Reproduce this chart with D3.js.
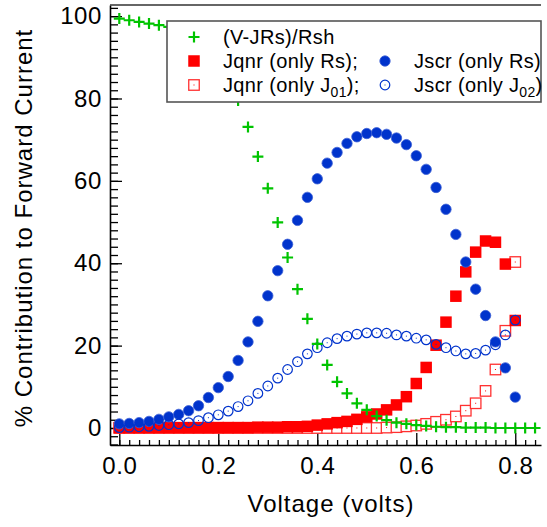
<!DOCTYPE html>
<html><head><meta charset="utf-8">
<script src="https://cdn.jsdelivr.net/npm/d3@7"></script>
<style>
html,body{margin:0;padding:0;background:#fff;}
svg{display:block;font-family:"Liberation Sans",Arial,sans-serif;}
</style></head>
<body><svg id="c" width="547" height="527"></svg>
<script>
// ---- data ----
const voltsLong = [0,0.02,0.04,0.06,0.08,0.10,0.12,0.14,0.16,0.18,0.20,0.22,0.24,0.26,0.28,0.30,0.32,0.34,0.36,0.38,0.40,0.42,0.44,0.46,0.48,0.50,0.52,0.54,0.56,0.58,0.60,0.62,0.64,0.66,0.68,0.70,0.72,0.74,0.76,0.78,0.80,0.82,0.84];
const volts = [0,0.02,0.04,0.06,0.08,0.10,0.12,0.14,0.16,0.18,0.20,0.22,0.24,0.26,0.28,0.30,0.32,0.34,0.36,0.38,0.40,0.42,0.44,0.46,0.48,0.50,0.52,0.54,0.56,0.58,0.60,0.62,0.64,0.66,0.68,0.70,0.72,0.74,0.76,0.78,0.80];
const shuntPct = [99.4,99.0,98.6,98.2,97.8,97.4,96.8,96.0,94.8,92.8,89.5,85.0,79.5,73.1,65.9,58.2,49.9,41.4,33.7,26.5,20.4,15.3,11.2,8.4,6.0,4.4,2.9,1.9,1.3,1.0,0.7,0.5,0.3,0.2,0.2,0.1,0.1,0.1,0.0,0.0,0.0,0.0,0.0];
const jqnrRs = [0.1,0.1,0.1,0.1,0.1,0.1,0.1,0.1,0.1,0.1,0.1,0.1,0.1,0.1,0.2,0.2,0.2,0.3,0.3,0.4,0.7,1.0,1.3,1.6,2.1,2.7,3.4,4.4,5.6,7.6,10.8,14.7,20.1,25.7,32.0,37.9,42.7,45.4,45.1,39.8,26.1];
const jqnrJ01 = [0,0,0,0,0,0,0,0,0,0,0,0,0,0,0,0,0,0,0,0,0,0,0,0,0,0,0.0,0.1,0.2,0.4,0.6,1.0,1.5,2.0,2.8,4.2,6.0,9.0,14.2,23.6,40.3];
const jscrRs = [1.0,1.1,1.3,1.6,2.1,2.7,3.3,4.2,5.4,7.4,9.8,12.5,16.4,20.9,25.9,32.1,38.2,44.6,50.4,56.0,60.5,64.3,66.9,69.1,70.7,71.5,71.7,71.3,70.4,68.8,66.1,62.8,58.4,53.1,47.0,40.3,33.7,27.3,20.9,14.6,7.5];
const jscrJ02 = [0.1,0.2,0.3,0.4,0.6,0.8,1.0,1.3,1.8,2.5,3.2,4.1,5.2,6.6,8.4,10.2,12.1,14.2,16.1,18.0,19.5,20.7,21.7,22.3,22.8,23.1,23.1,23.0,22.6,22.3,21.8,21.4,20.3,19.5,18.7,18.0,18.1,18.9,20.2,22.6,26.2];
const xTickLabels = [0.0,0.2,0.4,0.6,0.8];
const yTickLabels = [0,20,40,60,80,100];
const xMinorTicks = [0,0.02,0.04,0.06,0.08,0.10,0.12,0.14,0.16,0.18,0.20,0.22,0.24,0.26,0.28,0.30,0.32,0.34,0.36,0.38,0.40,0.42,0.44,0.46,0.48,0.50,0.52,0.54,0.56,0.58,0.60,0.62,0.64,0.66,0.68,0.70,0.72,0.74,0.76,0.78,0.80,0.82,0.84];
const yMinorTicks = [-4,-2,0,2,4,6,8,10,12,14,16,18,20,22,24,26,28,30,32,34,36,38,40,42,44,46,48,50,52,54,56,58,60,62,64,66,68,70,72,74,76,78,80,82,84,86,88,90,92,94,96,98,100,102];

// ---- chart ----
const svg = d3.select("#c");
const x = d3.scaleLinear().domain([-0.0188, 0.852]).range([110, 541]);
const y = d3.scaleLinear().domain([-4.13, 102.7]).range([445, 5]);

const GREEN = "#00c400", RED = "#ff0000", BLUE = "#0033cc";

// axes
const gx = svg.append("g").attr("transform", `translate(0,${y.range()[0]})`);
gx.call(d3.axisBottom(x).tickValues(xMinorTicks).tickSize(-5).tickSizeOuter(0).tickFormat(""));
const gx2 = svg.append("g").attr("transform", `translate(0,${y.range()[0]})`);
gx2.call(d3.axisBottom(x).tickValues(xTickLabels).tickSize(-12).tickSizeOuter(0).tickPadding(12).tickFormat(d3.format(".1f")));
gx2.select(".domain").remove();
const gy = svg.append("g").attr("transform", `translate(${x.range()[0]},0)`);
gy.call(d3.axisLeft(y).tickValues(yMinorTicks).tickSize(-8).tickSizeOuter(0).tickFormat(""));
const gy2 = svg.append("g").attr("transform", `translate(${x.range()[0]},0)`);
gy2.call(d3.axisLeft(y).tickValues(yTickLabels).tickSize(-12).tickSizeOuter(0).tickPadding(8).tickFormat(d3.format("d")));
gy2.select(".domain").remove();
svg.selectAll(".domain").attr("stroke","#000").attr("stroke-width",1.6);
svg.selectAll(".tick line").attr("stroke","#000").attr("stroke-width",1.3);
svg.selectAll(".tick text").attr("fill","#000").style("font-size","24px").style("letter-spacing","0.6px").style("font-family","'Liberation Sans',Arial,sans-serif");
// top frame line
svg.append("line").attr("x1", x.range()[0]).attr("x2", x.range()[1]).attr("y1", y.range()[1]).attr("y2", y.range()[1])
  .attr("stroke","#333").attr("stroke-width",1.6);

// axis titles
svg.append("text").attr("x", 331).attr("y", 512).attr("text-anchor","middle")
  .style("font-size","24px").style("letter-spacing","1px").text("Voltage (volts)");
svg.append("text").attr("transform","translate(32,228) rotate(-90)").attr("text-anchor","middle")
  .style("font-size","24px").style("letter-spacing","1px").text("% Contribution to Forward Current");

const plot = svg.append("g");
const S = 11.5;
function plusPath(cx, cy){ const a=5.5; return `M${cx-a},${cy}H${cx+a}M${cx},${cy-a}V${cy+a}`; }

// open red squares (white fill) first
const g1 = plot.append("g");
volts.forEach((v,i)=>{
  const cx=x(v), cy=y(jqnrJ01[i]);
  g1.append("rect").attr("x",cx-S/2+0.5).attr("y",cy-S/2+0.5).attr("width",S-1).attr("height",S-1)
    .attr("fill","#fff").attr("stroke","#ff3030").attr("stroke-width",1.3);
  g1.append("rect").attr("x",cx-0.5).attr("y",cy-0.5).attr("width",1).attr("height",1).attr("fill",RED);
});
// filled red squares
plot.append("g").selectAll("rect").data(volts).join("rect")
  .attr("x",(v)=>x(v)-S/2).attr("y",(v,i)=>y(jqnrRs[i])-S/2).attr("width",S).attr("height",S).attr("fill",RED);
// filled blue circles
plot.append("g").selectAll("circle").data(volts).join("circle")
  .attr("cx",(v)=>x(v)).attr("cy",(v,i)=>y(jscrRs[i])).attr("r",5.2).attr("fill",BLUE)
  .attr("stroke","#3b5fd6").attr("stroke-width",0.8);
// open blue circles
const g4 = plot.append("g");
volts.forEach((v,i)=>{
  const cx=x(v), cy=y(jscrJ02[i]);
  g4.append("circle").attr("cx",cx).attr("cy",cy).attr("r",4.8).attr("fill","none").attr("stroke",BLUE).attr("stroke-width",1.2);
  g4.append("rect").attr("x",cx-0.5).attr("y",cy-0.5).attr("width",1).attr("height",1).attr("fill",BLUE);
});
// green pluses
plot.append("g").selectAll("path").data(voltsLong).join("path")
  .attr("d",(v,i)=>plusPath(x(v), y(shuntPct[i]))).attr("stroke",GREEN).attr("stroke-width",2.2).attr("fill","none");

// legend
const lg = svg.append("g");
lg.append("rect").attr("x",167).attr("y",21).attr("width",374).attr("height",81)
  .attr("fill","#fff").attr("stroke","#555").attr("stroke-width",1.6);
lg.append("path").attr("d",plusPath(194,37)).attr("stroke",GREEN).attr("stroke-width",2.2);
lg.append("rect").attr("x",194-S/2).attr("y",61-S/2).attr("width",S).attr("height",S).attr("fill",RED);
lg.append("rect").attr("x",194-S/2+0.5).attr("y",85-S/2+0.5).attr("width",S-1).attr("height",S-1).attr("fill","#fff").attr("stroke","#ff3030").attr("stroke-width",1.3);
lg.append("rect").attr("x",193.5).attr("y",84.5).attr("width",1).attr("height",1).attr("fill",RED);
lg.append("circle").attr("cx",385).attr("cy",61).attr("r",5.2).attr("fill",BLUE).attr("stroke","#3b5fd6").attr("stroke-width",0.8);
lg.append("circle").attr("cx",385).attr("cy",85).attr("r",4.8).attr("fill","none").attr("stroke",BLUE).attr("stroke-width",1.2);
lg.append("rect").attr("x",384.5).attr("y",84.5).attr("width",1).attr("height",1).attr("fill",BLUE);
const lt = (xx,yy,txt)=>lg.append("text").attr("x",xx).attr("y",yy).style("font-size","20px").style("letter-spacing","0.35px").text(txt);
lt(223,44,"(V-JRs)/Rsh");
lt(223,68,"Jqnr (only Rs);");
lt(414,68,"Jscr (only Rs)");
const t1 = lt(223,92,"Jqnr (only J");
t1.append("tspan").attr("dy",5).style("font-size","14px").text("01");
t1.append("tspan").attr("dy",-5).text(");");
const t2 = lt(414,92,"Jscr (only J");
t2.append("tspan").attr("dy",5).style("font-size","14px").text("02");
t2.append("tspan").attr("dy",-5).text(")");
</script></body></html>
